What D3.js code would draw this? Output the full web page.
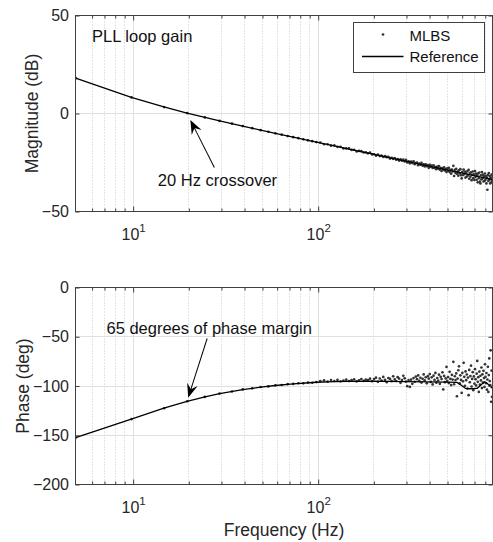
<!DOCTYPE html>
<html>
<head>
<meta charset="utf-8">
<script src="https://cdn.jsdelivr.net/npm/d3@7"></script>
<style>
  body { margin: 0; background: #fff; }
  svg { display: block; font-family: "Liberation Sans", Arial, Helvetica, sans-serif; }
</style>
</head>
<body>
<svg id="chart" width="493" height="542"></svg>
<script>
// MLBS measurement frequencies (Hz)
const freqs = [
  4.9, 9.8, 14.7, 19.6, 24.4, 29.3, 34.2, 39.1, 44.0, 48.9,
  53.8, 58.7, 63.5, 68.4, 73.3, 78.2, 83.1, 88.0, 92.9, 97.8,
  102.6, 107.5, 112.4, 117.3, 122.2, 127.1, 132.0, 136.9, 141.7, 146.6,
  151.5, 156.4, 161.3, 166.2, 171.1, 176.0, 180.8, 185.7, 190.6, 195.5,
  200.4, 205.3, 210.2, 215.1, 219.9, 224.8, 229.7, 234.6, 239.5, 244.4,
  249.3, 254.2, 259.0, 263.9, 268.8, 273.7, 278.6, 283.5, 288.4, 293.3,
  298.1, 303.0, 307.9, 312.8, 317.7, 322.6, 327.5, 332.4, 337.2, 342.1,
  347.0, 351.9, 356.8, 361.7, 366.6, 371.5, 376.3, 381.2, 386.1, 391.0,
  395.9, 400.8, 405.7, 410.6, 415.4, 420.3, 425.2, 430.1, 435.0, 439.9,
  444.8, 449.7, 454.5, 459.4, 464.3, 469.2, 474.1, 479.0, 483.9, 488.8,
  493.6, 498.5, 503.4, 508.3, 513.2, 518.1, 523.0, 527.9, 532.7, 537.6,
  542.5, 547.4, 552.3, 557.2, 562.1, 567.0, 571.8, 576.7, 581.6, 586.5,
  591.4, 596.3, 601.2, 606.1, 610.9, 615.8, 620.7, 625.6, 630.5, 635.4,
  640.3, 645.2, 650.0, 654.9, 659.8, 664.7, 669.6, 674.5, 679.4, 684.3,
  689.1, 694.0, 698.9, 703.8, 708.7, 713.6, 718.5, 723.4, 728.2, 733.1,
  738.0, 742.9, 747.8, 752.7, 757.6, 762.5, 767.3, 772.2, 777.1, 782.0,
  786.9, 791.8, 796.7, 801.6, 806.4, 811.3, 816.2, 821.1, 826.0, 830.9,
  835.8, 840.7, 845.5, 850.4, 855.3, 860.2, 865.1, 870.0, 874.9
]

// MLBS magnitude (dB)
const magMLBS = [
  18.0, 8.2, 3.3, 0.2, -2.0, -3.8, -5.2, -6.4, -7.5, -8.5,
  -9.3, -10.1, -10.8, -11.5, -12.1, -12.6, -13.2, -13.7, -14.1, -14.6,
  -14.8, -15.7, -15.7, -16.4, -16.3, -17.0, -17.0, -17.8, -17.8, -17.8,
  -18.6, -18.5, -19.4, -19.1, -19.2, -19.9, -19.8, -20.3, -20.0, -20.9,
  -20.8, -21.5, -21.0, -21.7, -21.5, -22.2, -21.7, -22.3, -22.1, -23.0,
  -22.6, -23.1, -22.7, -23.6, -23.3, -24.0, -23.4, -24.1, -23.5, -24.5,
  -23.7, -25.0, -24.4, -25.4, -24.5, -25.3, -24.4, -25.9, -25.3, -25.0,
  -26.4, -25.5, -26.1, -25.2, -26.6, -26.0, -27.0, -25.9, -26.9, -26.3,
  -27.7, -26.2, -27.2, -26.6, -27.8, -26.4, -27.8, -27.3, -28.4, -27.1,
  -28.1, -26.9, -28.7, -27.8, -29.3, -27.8, -28.7, -27.5, -29.1, -28.4,
  -29.9, -28.0, -29.2, -27.7, -29.9, -28.7, -30.7, -28.6, -29.6, -26.7,
  -31.9, -28.7, -30.3, -28.3, -30.8, -29.6, -31.7, -29.0, -30.5, -28.4,
  -31.5, -33.1, -29.8, -31.4, -28.6, -30.9, -29.7, -32.7, -30.3, -32.2,
  -29.4, -31.6, -28.8, -33.3, -30.4, -32.3, -30.0, -34.0, -31.3, -29.6,
  -33.0, -31.0, -33.9, -29.4, -32.3, -30.7, -33.8, -31.6, -35.1, -30.5,
  -33.0, -30.1, -34.8, -35.7, -31.5, -33.6, -29.9, -33.0, -31.2, -34.7,
  -32.1, -34.4, -30.6, -33.8, -32.0, -35.7, -32.8, -38.9, -31.4, -34.4,
  -30.4, -33.8, -31.9, -35.7, -32.7, -35.2, -31.2, -34.3, -32.6
]

// MLBS phase (deg)
const phaseMLBS = [
  -152.4, -133.6, -122.6, -115.5, -111.1, -107.7, -105.6, -103.5, -102.4, -101.0,
  -100.4, -99.3, -99.0, -98.1, -97.9, -97.2, -97.3, -96.5, -96.7, -96.0,
  -95.0, -94.2, -95.6, -94.0, -94.9, -93.8, -95.3, -94.5, -93.6, -95.0,
  -94.1, -93.2, -95.4, -94.3, -92.9, -94.8, -93.5, -94.0, -92.6, -95.2,
  -93.0, -91.5, -95.8, -92.4, -94.6, -90.8, -93.7, -96.2, -91.9, -92.8,
  -95.1, -90.2, -93.3, -94.9, -91.0, -92.5, -96.8, -93.9, -89.6, -92.2,
  -95.5, -100.2, -94.0, -100.9, -93.6, -97.8, -92.0, -95.7, -90.4, -93.1,
  -89.3, -94.8, -91.6, -96.5, -92.7, -88.2, -94.2, -91.1, -97.3, -90.0,
  -92.6, -87.9, -95.9, -91.2, -98.4, -89.5, -93.8, -86.7, -96.6, -91.9,
  -94.4, -88.5, -97.8, -90.6, -93.0, -86.1, -103.5, -89.8, -96.1, -92.3,
  -80.6, -94.7, -90.9, -97.0, -85.6, -92.8, -99.1, -88.8, -93.5, -75.5,
  -98.2, -90.1, -94.0, -87.2, -110.4, -92.5, -84.0, -80.0, -97.4, -89.2,
  -93.8, -107.0, -86.6, -95.3, -76.5, -90.7, -99.8, -85.2, -94.1, -88.3,
  -102.6, -91.4, -109.3, -83.7, -96.2, -89.9, -79.4, -100.5, -92.8, -86.0,
  -104.2, -90.3, -97.6, -82.9, -93.1, -99.4, -87.5, -74.5, -95.8, -91.0,
  -106.0, -85.4, -98.7, -89.6, -94.3, -81.2, -102.1, -88.1, -96.5, -84.6,
  -92.0, -100.9, -77.9, -90.8, -97.1, -86.8, -103.7, -93.4, -80.5, -106.0,
  -88.9, -72.0, -95.0, -99.2, -63.8, -116.0, -84.3, -111.0, -101.5
]

// reference loop gain
const refFreqs = [4.888, 9.775, 14.66, 19.55, 24.44, 29.33, 39.10, 48.88, 58.65, 73.31, 97.75,
  122.2, 146.6, 195.5, 244.4, 293.3, 391.0, 488.8, 586.5, 684.3, 782.0, 874.9]
const refMag = [18.05, 8.18, 3.32, 0.23, -2.00, -3.76, -6.44, -8.46, -10.09, -12.07, -14.60,
  -16.55, -18.14, -20.64, -22.59, -24.17, -26.67, -28.61, -30.19, -31.53, -32.69, -33.67]

const phaseRefFreqs = [4.888, 9.775, 14.66, 19.55, 24.44, 29.33, 39.10, 48.88, 58.65, 73.31, 97.75,
  122.2, 146.6, 195.5, 244.4, 293.3, 391.0, 488.8, 562.1, 596.3, 625.6, 660.0, 694.0, 723.4,
  757.6, 791.8, 821.1, 850.4, 874.9]
const refPhase = [-152.4, -133.7, -122.5, -115.6, -111.0, -107.8, -103.7, -101.2, -99.5, -97.8, -96.2,
  -95.6, -95.3, -95.2, -95.3, -95.5, -95.8, -96.0, -96.3, -99.5, -102.5, -102.8, -102.6, -102.3,
  -99.0, -95.8, -97.5, -100.5, -102.0]

const majorFreqTicks = [10, 100]
const minorFreqTicks = [6, 7, 8, 9, 20, 30, 40, 50, 60, 70, 80, 90, 200, 300, 400, 500, 600, 700, 800]
const magTicks = [-50, 0, 50]
const phaseTicks = [-200, -150, -100, -50, 0]
const legendLabels = ["MLBS", "Reference"]

const axisColor = "#404040"
const svg = d3.select("#chart")

const x = d3.scaleLog().domain([4.88, 875]).range([75.5, 492.5])
const left = x.range()[0]
const right = x.range()[1]
const snap = v => Math.round(v - 0.5) + 0.5

const panels = [
  { top: 15.5, bottom: 211.5, domain: [-50, 50], ticks: magTicks, label: "Magnitude (dB)", labelX: 38, dots: magMLBS, refX: refFreqs, refY: refMag },
  { top: 287.5, bottom: 484.5, domain: [-200, 0], ticks: phaseTicks, label: "Phase (deg)", labelX: 28.5, dots: phaseMLBS, refX: phaseRefFreqs, refY: refPhase }
]

const yScales = panels.map((p, i) => drawPanel(p, i))

function drawPanel(p, i) {
  const y = d3.scaleLinear().domain(p.domain).range([p.bottom, p.top])
  const g = svg.append("g")

  g.append("clipPath").attr("id", "clip" + i)
    .append("rect")
    .attr("x", left).attr("y", p.top)
    .attr("width", right - left).attr("height", p.bottom - p.top)

  // minor grid, dotted
  g.append("g").selectAll("line")
    .data(minorFreqTicks)
    .join("line")
    .attr("x1", d => snap(x(d))).attr("x2", d => snap(x(d)))
    .attr("y1", p.top).attr("y2", p.bottom)
    .attr("stroke", "#c9c9c9")
    .attr("stroke-dasharray", "1,2")

  // major grid
  g.append("g").selectAll("line")
    .data(majorFreqTicks)
    .join("line")
    .attr("x1", d => snap(x(d))).attr("x2", d => snap(x(d)))
    .attr("y1", p.top).attr("y2", p.bottom)
    .attr("stroke", "#e0e0e0")
  g.append("g").selectAll("line")
    .data(p.ticks.filter(d => d !== p.domain[0] && d !== p.domain[1]))
    .join("line")
    .attr("y1", d => snap(y(d))).attr("y2", d => snap(y(d)))
    .attr("x1", left).attr("x2", right)
    .attr("stroke", "#e0e0e0")

  const plot = g.append("g").attr("clip-path", `url(#clip${i})`)

  // MLBS points
  plot.selectAll("circle")
    .data(freqs.map((f, k) => ({ f, v: p.dots[k] })))
    .join("circle")
    .attr("cx", d => x(d.f))
    .attr("cy", d => y(d.v))
    .attr("r", 1.35)
    .attr("fill", "#333")

  // reference line
  const line = d3.line().x(d => x(d[0])).y(d => y(d[1]))
  plot.append("path")
    .datum(p.refX.map((f, k) => [f, p.refY[k]]))
    .attr("d", line)
    .attr("fill", "none")
    .attr("stroke", "#000")
    .attr("stroke-width", 1.3)

  // axes (ticks point inward)
  const xMajor = g.append("g")
    .attr("transform", `translate(0,${p.bottom})`)
    .call(d3.axisBottom(x).tickValues(majorFreqTicks).tickSize(-5).tickFormat(() => ""))
  g.append("g")
    .attr("transform", `translate(0,${p.bottom})`)
    .call(d3.axisBottom(x).tickValues(minorFreqTicks).tickSize(-3).tickFormat(() => ""))
  g.append("g")
    .attr("transform", `translate(0,${p.top})`)
    .call(d3.axisTop(x).tickValues(majorFreqTicks).tickSize(-5).tickFormat(() => ""))
  g.append("g")
    .attr("transform", `translate(0,${p.top})`)
    .call(d3.axisTop(x).tickValues(minorFreqTicks).tickSize(-3).tickFormat(() => ""))
  g.append("g")
    .attr("transform", `translate(${left},0)`)
    .call(d3.axisLeft(y).tickValues(p.ticks).tickSize(-4).tickPadding(6.5))
  g.append("g")
    .attr("transform", `translate(${right},0)`)
    .call(d3.axisRight(y).tickValues(p.ticks).tickSize(-4).tickFormat(() => ""))

  g.selectAll(".domain").remove()
  g.selectAll(".tick line").attr("stroke", axisColor)
  g.selectAll(".tick text")
    .attr("fill", "#262626")
    .attr("font-size", 16)
    .attr("font-family", "Liberation Sans, Arial, sans-serif")

  // power-of-ten labels
  xMajor.selectAll(".tick text")
    .attr("y", 28).attr("dy", null)
    .each(function (d) {
      const t = d3.select(this)
      t.append("tspan").text("10")
      t.append("tspan").attr("dy", -7.5).attr("font-size", 11.5).text(Math.round(Math.log10(d)))
    })

  // box
  g.append("rect")
    .attr("x", left).attr("y", p.top)
    .attr("width", right - left).attr("height", p.bottom - p.top)
    .attr("fill", "none")
    .attr("stroke", axisColor)

  // y label
  g.append("text")
    .attr("transform", `translate(${p.labelX},${(p.top + p.bottom) / 2}) rotate(-90)`)
    .attr("text-anchor", "middle")
    .attr("font-size", 17.5)
    .attr("fill", "#262626")
    .text(p.label)

  return y
}

const yMag = yScales[0]
const yPhase = yScales[1]

// x label
svg.append("text")
  .attr("x", (left + right) / 2)
  .attr("y", 536)
  .attr("text-anchor", "middle")
  .attr("font-size", 17.5)
  .attr("fill", "#262626")
  .text("Frequency (Hz)")

// legend
const legend = svg.append("g")
legend.append("rect")
  .attr("x", 353.5).attr("y", 22.5)
  .attr("width", 131).attr("height", 50)
  .attr("fill", "#fff")
  .attr("stroke", axisColor)
legend.append("circle")
  .attr("cx", 383).attr("cy", 34.5)
  .attr("r", 1.35).attr("fill", "#333")
legend.append("line")
  .attr("x1", 362).attr("x2", 403.5)
  .attr("y1", 56.5).attr("y2", 56.5)
  .attr("stroke", "#000").attr("stroke-width", 1.3)
legend.selectAll("text.lbl")
  .data(legendLabels)
  .join("text")
  .attr("class", "lbl")
  .attr("x", 409.5)
  .attr("y", (d, i) => 40.5 + i * 21.5)
  .attr("font-size", 15)
  .attr("fill", "#111")
  .text(d => d)

// annotations
svg.append("text")
  .attr("x", left + 16.5).attr("y", 42)
  .attr("font-size", 16.5).attr("fill", "#111")
  .text("PLL loop gain")

function arrow(tail, tip) {
  const dx = tip[0] - tail[0], dy = tip[1] - tail[1]
  const ang = Math.atan2(dy, dx) * 180 / Math.PI
  const len = Math.hypot(dx, dy)
  const a = svg.append("g").attr("transform", `translate(${tip[0]},${tip[1]}) rotate(${ang})`)
  a.append("line")
    .attr("x1", -len).attr("y1", 0).attr("x2", -8).attr("y2", 0)
    .attr("stroke", "#000").attr("stroke-width", 1)
  a.append("path")
    .attr("d", "M0,0 L-14,-5.5 L-9,0 L-14,5.5 Z")
    .attr("fill", "#000")
}

// crossover at 20 Hz, 0 dB
const cx0 = x(20), cy0 = yMag(0)
arrow([cx0 + 25.5, cy0 + 54], [cx0 + 1.5, cy0 + 6.5])
svg.append("text")
  .attr("x", cx0 - 31).attr("y", cy0 + 72.3)
  .attr("font-size", 16.5).attr("fill", "#111")
  .text("20 Hz crossover")

// phase margin at 20 Hz
const px0 = x(20), py0 = yPhase(-115)
arrow([px0 + 18.3, py0 - 62.3], [px0 - 0.7, py0 - 3])
svg.append("text")
  .attr("x", px0 - 82.4).attr("y", py0 - 66.6)
  .attr("font-size", 16.5).attr("fill", "#111")
  .text("65 degrees of phase margin")
</script>
</body>
</html>
